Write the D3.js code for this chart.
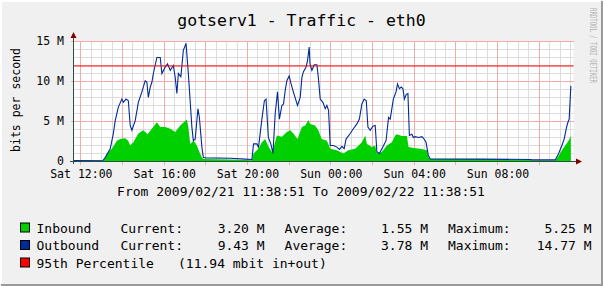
<!DOCTYPE html>
<html>
<head>
<meta charset="utf-8">
<script src="https://cdn.jsdelivr.net/npm/d3@7"></script>
<style>
html, body { margin: 0; padding: 0; background: #f0f0f0; }
svg { display: block; font-family: "DejaVu Sans Mono", monospace; }
</style>
</head>
<body>
<svg id="chart" width="603" height="286"></svg>
<script>
// times are hours since Sat 2009/02/21 00:00, values in Mbit/s
const outHours = [11.65, 13.07, 13.17, 13.41, 13.56, 13.65, 13.80, 13.97, 14.04, 14.17, 14.28, 14.37, 14.45, 14.61,
    14.76, 14.93, 15.09, 15.17, 15.24, 15.33, 15.41, 15.48, 15.65, 15.81, 15.89, 16.05, 16.16, 16.29, 16.44, 16.53,
    16.61, 16.68, 16.80, 16.92, 17.05, 17.16, 17.33, 17.40, 17.49, 17.62, 17.69, 17.81, 17.88, 18.01, 19.17, 19.89,
    20.21, 20.29, 20.45, 20.53, 20.69, 20.81, 20.89, 21.00, 21.12, 21.22, 21.33, 21.44, 21.53, 21.65, 21.73, 21.81,
    21.89, 22.00, 22.09, 22.20, 22.40, 22.53, 22.61, 22.68, 22.81, 22.88, 22.96, 23.00, 23.09, 23.20, 23.33, 23.40,
    23.49, 23.62, 23.73, 23.81, 23.89, 23.97, 24.12, 24.29, 24.41, 24.53, 24.64, 24.73, 24.93, 25.08, 25.25, 25.37,
    25.49, 25.60, 25.70, 25.78, 25.89, 26.02, 26.13, 26.21, 26.33, 26.53, 26.65, 26.77, 26.85, 27.00, 27.13, 27.20,
    27.29, 27.38, 27.46, 27.53, 27.62, 27.70, 27.77, 27.89, 27.96, 28.05, 28.21, 28.37, 28.45, 28.57, 28.68, 28.77,
    31.17, 33.57, 33.67, 34.77, 34.93, 35.09, 35.20, 35.30, 35.36, 35.44, 35.52];
const outValues = [0.12, 0.15, 0.5, 1.6, 3.5, 5.1, 6.8, 7.8, 7.4, 7.8, 7.6, 4.5, 3.9, 5.1,
    7.4, 8.7, 10.1, 9.9, 8.0, 9.3, 9.9, 11.0, 13.0, 13.0, 11.0, 11.8, 12.2, 11.4, 12.0, 10.5,
    8.5, 11.0, 10.6, 13.9, 14.77, 11.0, 4.3, 2.6, 2.8, 6.6, 5.5, 1.8, 0.5, 0.45, 0.4, 0.3,
    0.25, 2.2, 2.2, 1.8, 5.3, 7.6, 7.8, 3.0, 2.2, 1.0, 6.0, 8.7, 5.3, 7.0, 7.2, 8.9,
    10.1, 10.7, 9.7, 8.7, 7.0, 8.0, 10.5, 11.2, 11.8, 12.6, 14.3, 12.2, 11.4, 12.1, 12.1, 10.5,
    7.8, 7.4, 6.6, 7.0, 6.4, 2.0, 2.0, 1.8, 1.5, 1.9, 1.6, 2.8, 3.5, 4.1, 4.7, 5.3,
    7.2, 7.8, 7.6, 4.3, 3.9, 4.4, 4.5, 1.2, 1.0, 2.0, 2.6, 5.5, 5.3, 7.8, 8.7, 9.7,
    9.1, 9.3, 9.1, 7.8, 8.4, 8.5, 3.25, 3.4, 3.0, 3.1, 3.0, 3.1, 2.9, 2.4, 0.75, 0.33,
    0.3, 0.25, 0.2, 0.2, 0.96, 2.0, 2.8, 4.1, 4.75, 5.3, 9.43];

const inHours = [11.65, 13.07, 13.25, 13.49, 13.73, 13.89, 14.13, 14.27, 14.37, 14.52, 14.76, 15.00, 15.20, 15.41,
    15.65, 15.81, 16.05, 16.29, 16.53, 16.77, 17.09, 17.16, 17.25, 17.41, 17.57, 17.69, 17.81, 17.88, 19.17, 20.21,
    20.29, 20.53, 20.69, 20.85, 21.00, 21.17, 21.28, 21.41, 21.65, 21.89, 22.05, 22.20, 22.40, 22.61, 22.77, 22.93,
    23.00, 23.24, 23.40, 23.56, 23.81, 23.97, 24.29, 24.60, 24.84, 25.17, 25.49, 25.65, 25.73, 25.97, 26.13, 26.21,
    26.45, 26.69, 26.93, 27.09, 27.17, 27.41, 27.65, 27.73, 27.97, 28.29, 28.61, 28.68, 28.77, 31.17, 33.57, 33.67,
    34.77, 34.93, 35.09, 35.25, 35.41, 35.47, 35.52];
const inValues = [0.12, 0.12, 1.0, 1.6, 2.6, 2.8, 2.9, 2.6, 2.0, 2.4, 3.5, 3.9, 3.4, 4.1,
    4.9, 4.3, 4.3, 4.1, 3.7, 4.5, 5.25, 4.3, 2.2, 2.6, 2.0, 1.2, 0.5, 0.3, 0.25, 0.15,
    1.0, 1.6, 2.4, 2.8, 1.9, 1.2, 2.0, 3.25, 3.1, 3.7, 3.9, 3.5, 2.8, 4.3, 4.5, 5.2,
    4.7, 4.5, 3.9, 2.8, 2.6, 1.6, 1.4, 1.0, 1.4, 1.6, 2.4, 3.25, 2.2, 1.8, 2.0, 1.0,
    1.2, 2.0, 2.4, 3.25, 3.4, 3.2, 3.2, 1.8, 1.7, 1.6, 1.4, 0.5, 0.3, 0.3, 0.25, 0.15,
    0.15, 0.7, 1.4, 2.0, 2.6, 2.9, 3.2];

const percentile95 = 11.94;
const yMajorTicks = [0, 5, 10, 15];

const seriesNames = ['Inbound', 'Outbound'];
const seriesColors = ['#00CF00', '#002A97'];
const currentVals = ['3.20 M', '9.43 M'];
const averageVals = ['1.55 M', '3.78 M'];
const maximumVals = ['5.25 M', '14.77 M'];
const percentileLabel = '95th Percentile';
const percentileNote = '(11.94 mbit in+out)';

const W = 603, H = 286;
const svg = d3.select('#chart');
const base = new Date(2009, 1, 21, 0, 0, 0);
const toDate = h => new Date(base.getTime() + h * 3600e3);
const start = new Date(2009, 1, 21, 11, 38, 51);
const end = new Date(2009, 1, 22, 11, 38, 51);

const x = d3.scaleTime().domain([start, end]).range([73.5, 573.5]);
const y = d3.scaleLinear().domain([0, 15]).range([161.5, 41.5]);
const px = v => Math.floor(v) + 0.5;

// canvas + 3d frame
svg.append('rect').attr('width', W).attr('height', H).attr('fill', '#f0f0f0');
svg.append('path').attr('d', `M1,${H - 2}V1H${W - 2}`).attr('fill', 'none').attr('stroke', '#ffffff').attr('stroke-width', 2);
svg.append('path').attr('d', `M1,${H - 1}H${W - 1}V1`).attr('fill', 'none').attr('stroke', '#9a9a9a').attr('stroke-width', 2);

// plot background
svg.append('rect').attr('x', 73.5).attr('y', 41.5).attr('width', 500).attr('height', 120).attr('fill', '#ffffff');

// grid
const grid = svg.append('g').attr('shape-rendering', 'crispEdges');
const minorX = x.ticks(d3.timeMinute.every(30)).filter(d => !(d.getMinutes() === 0 && d.getHours() % 2 === 0));
const majorX = x.ticks(d3.timeHour.every(2));

grid.selectAll('.vminor').data(minorX).enter().append('line')
    .attr('x1', d => px(x(d))).attr('x2', d => px(x(d)))
    .attr('y1', 41.5).attr('y2', 161.5)
    .attr('stroke', '#dcdcdc');

grid.selectAll('.hminor').data(y.ticks(15).filter(v => v % 5 !== 0)).enter().append('line')
    .attr('x1', 73.5).attr('x2', 573.5)
    .attr('y1', d => y(d)).attr('y2', d => y(d))
    .attr('stroke', '#dcdcdc');

grid.selectAll('.vmajor').data(majorX).enter().append('line')
    .attr('x1', d => px(x(d))).attr('x2', d => px(x(d)))
    .attr('y1', 41.5).attr('y2', 164.5)
    .attr('stroke', '#f2aaaa');

grid.selectAll('.hmajor').data(yMajorTicks).enter().append('line')
    .attr('x1', 70.5).attr('x2', 573.5)
    .attr('y1', d => y(d)).attr('y2', d => y(d))
    .attr('stroke', '#f2aaaa');

// data
const inData = inHours.map((h, i) => ({ t: toDate(h), v: inValues[i] }));
const outData = outHours.map((h, i) => ({ t: toDate(h), v: outValues[i] }));

svg.append('path')
    .datum(inData)
    .attr('fill', seriesColors[0])
    .attr('d', d3.area().x(d => x(d.t)).y0(y(0)).y1(d => y(d.v)));

svg.append('path')
    .datum(outData)
    .attr('fill', 'none')
    .attr('stroke', seriesColors[1])
    .attr('stroke-width', 1.1)
    .attr('d', d3.line().x(d => x(d.t)).y(d => y(d.v)));

svg.append('line')
    .attr('x1', 73.5).attr('x2', 573.5)
    .attr('y1', y(percentile95)).attr('y2', y(percentile95))
    .attr('stroke', '#ff0000').attr('stroke-width', 1);

// axes lines + arrows
svg.append('line').attr('x1', 73.5).attr('x2', 73.5).attr('y1', 164).attr('y2', 36)
    .attr('stroke', '#2c4d43').attr('shape-rendering', 'crispEdges');
svg.append('line').attr('x1', 70).attr('x2', 578).attr('y1', 161.5).attr('y2', 161.5)
    .attr('stroke', '#2c4d43').attr('shape-rendering', 'crispEdges');
svg.append('path').attr('d', 'M70.5,38L76.5,38L73.5,32Z').attr('fill', '#7f0000');
svg.append('path').attr('d', 'M576,158.5L576,164.5L582,161.5Z').attr('fill', '#7f0000');

// tick labels
const xAxis = svg.append('g')
    .attr('transform', 'translate(0,161.5)')
    .call(d3.axisBottom(x).ticks(d3.timeHour.every(4)).tickFormat(d3.timeFormat('%a %H:%M')).tickSize(0).tickPadding(8));
xAxis.select('.domain').remove();
xAxis.selectAll('text').attr('fill', '#000').style('font-family', '"DejaVu Sans Mono", monospace').style('font-size', '11.5px');

const yAxis = svg.append('g')
    .attr('transform', 'translate(73.5,0)')
    .call(d3.axisLeft(y).tickValues(yMajorTicks).tickFormat(v => v === 0 ? '0' : v + ' M').tickSize(0).tickPadding(9.5));
yAxis.select('.domain').remove();
yAxis.selectAll('text').attr('fill', '#000').attr('dy', '0.28em')
    .style('font-family', '"DejaVu Sans Mono", monospace').style('font-size', '11.5px');

// titles
svg.append('text')
    .attr('x', 301.5).attr('y', 26)
    .attr('text-anchor', 'middle')
    .style('font-size', '16.5px')
    .text('gotserv1 - Traffic - eth0');

svg.append('text')
    .attr('transform', 'translate(20,100) rotate(-90)')
    .attr('text-anchor', 'middle')
    .style('font-size', '11.5px')
    .text('bits per second');

svg.append('text')
    .attr('x', 301).attr('y', 196)
    .attr('text-anchor', 'middle')
    .style('font-size', '13px')
    .text('From ' + d3.timeFormat('%Y/%m/%d %H:%M:%S')(start) + ' To ' + d3.timeFormat('%Y/%m/%d %H:%M:%S')(end));

svg.append('text')
    .attr('transform', 'translate(589.5,8) rotate(90)')
    .attr('textLength', 75).attr('lengthAdjust', 'spacingAndGlyphs')
    .attr('fill', '#b0b0b0')
    .style('font-size', '8px')
    .text('RRDTOOL / TOBI OETIKER');

// legend
const legend = svg.append('g').style('font-size', '13px');
const rowY = [232.5, 250, 267.5];

seriesNames.forEach((name, i) => {
    const yy = rowY[i];
    legend.append('rect').attr('x', 20.5).attr('y', yy - 9.5).attr('width', 9).attr('height', 9)
        .attr('fill', seriesColors[i]).attr('stroke', '#000').attr('stroke-width', 1);
    legend.append('text').attr('x', 36.5).attr('y', yy).text(name);
    legend.append('text').attr('x', 120.4).attr('y', yy).text('Current:');
    legend.append('text').attr('x', 264.6).attr('y', yy).attr('text-anchor', 'end').text(currentVals[i]);
    legend.append('text').attr('x', 284.6).attr('y', yy).text('Average:');
    legend.append('text').attr('x', 428).attr('y', yy).attr('text-anchor', 'end').text(averageVals[i]);
    legend.append('text').attr('x', 448).attr('y', yy).text('Maximum:');
    legend.append('text').attr('x', 591.5).attr('y', yy).attr('text-anchor', 'end').text(maximumVals[i]);
});

legend.append('rect').attr('x', 20.5).attr('y', rowY[2] - 9.5).attr('width', 9).attr('height', 9)
    .attr('fill', '#ff0000').attr('stroke', '#000').attr('stroke-width', 1);
legend.append('text').attr('x', 36.5).attr('y', rowY[2]).text(percentileLabel);
legend.append('text').attr('x', 178).attr('y', rowY[2]).text(percentileNote);
</script>
</body>
</html>
